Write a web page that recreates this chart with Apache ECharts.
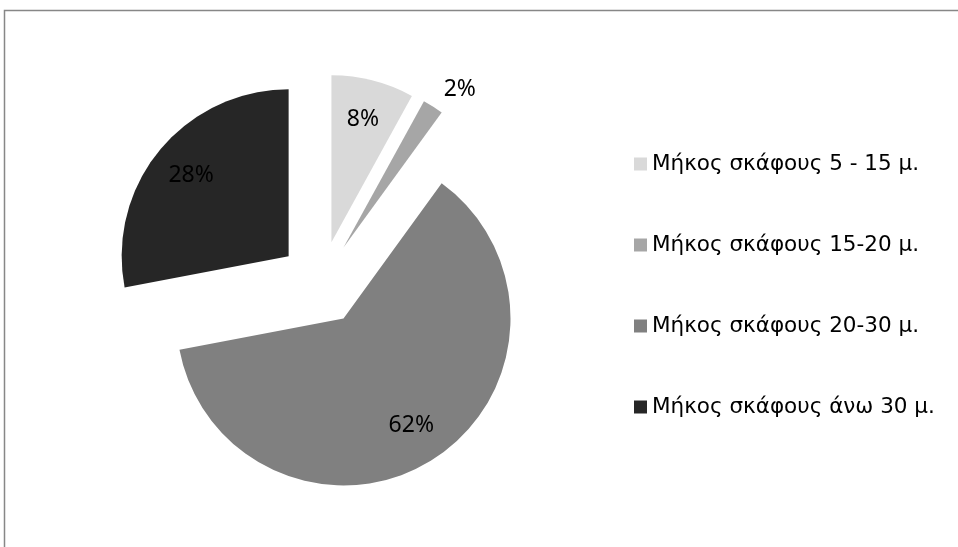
<!DOCTYPE html>
<html><head><meta charset="utf-8">
<script src="https://cdn.jsdelivr.net/npm/echarts@6/dist/echarts.min.js"></script>
<style>html,body{margin:0;padding:0;background:#fff}#c{width:958px;height:547px}</style>
</head><body><div id="c"></div>
<script>
const categories = ['Μήκος σκάφους 5 - 15 μ.', 'Μήκος σκάφους 15-20 μ.', 'Μήκος σκάφους 20-30 μ.', 'Μήκος σκάφους άνω 30 μ.'];
const values = [8, 2, 62, 28];
const colors = ['#d9d9d9', '#a6a6a6', '#808080', '#262626'];

const FONT = 'Noto Sans';
const LEGEND_FONT = 'DejaVu Sans';
const R = 167, CENTER = [321, 283], OFFSET = 42;

const chart = echarts.init(document.getElementById('c'), null, {renderer: 'canvas'});
const sliceData = categories.map((name, i) => ({
  name, value: values[i], selected: true,
  itemStyle: {color: colors[i]}, select: {itemStyle: {color: colors[i], borderWidth: 0}}
}));
const labelData = categories.map((name, i) => ({
  name, value: values[i], selected: true,
  label: {position: values[i] < 5 ? 'outside' : 'inside'}
}));
const option = {
  animation: false,
  legend: {
    orient: 'vertical', left: 629, top: 148, itemWidth: 13, itemHeight: 13, itemGap: 59,
    icon: 'rect', selectedMode: false,
    textStyle: {fontFamily: LEGEND_FONT, fontSize: 21.5, color: '#000', lineHeight: 21},
    data: categories.map((name, i) => ({name, itemStyle: {color: colors[i]}}))
  },
  graphic: [{type: 'rect', silent: true, shape: {x: 4.5, y: 10.5, width: 1000, height: 600},
    style: {fill: null, stroke: '#878787', lineWidth: 1.5}}],
  series: [
    {type: 'pie', center: CENTER, radius: [0, R], startAngle: 90, clockwise: true,
      selectedMode: 'multiple', selectedOffset: OFFSET, avoidLabelOverlap: false,
      data: sliceData, label: {show: false}, labelLine: {show: false},
      emphasis: {disabled: true}, silent: true},
    {type: 'pie', center: CENTER, radius: [80, R], startAngle: 90, clockwise: true,
      selectedMode: 'multiple', selectedOffset: OFFSET, avoidLabelOverlap: false,
      data: labelData, itemStyle: {color: 'rgba(0,0,0,0)'},
      select: {itemStyle: {color: 'rgba(0,0,0,0)', borderWidth: 0}},
      label: {show: true, formatter: '{c}%', fontFamily: FONT, fontSize: 23, color: '#000', alignTo: 'none', distanceToLabelLine: 0},
      labelLine: {show: false, length: 20, length2: 0},
      emphasis: {disabled: true}, silent: true}
  ]
};
chart.setOption(option);
</script></body></html>
